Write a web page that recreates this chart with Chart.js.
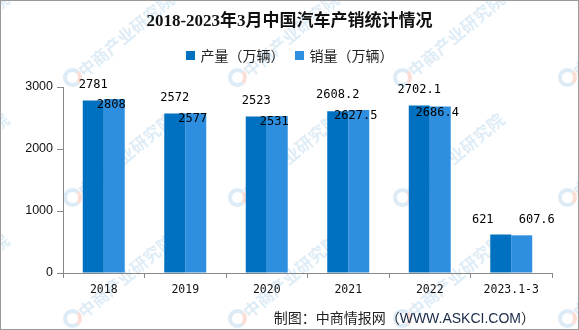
<!DOCTYPE html>
<html>
<head>
<meta charset="utf-8">
<script src="https://cdn.jsdelivr.net/npm/chart.js@4/dist/chart.umd.min.js"></script>
<style>
  html, body { margin: 0; padding: 0; background: #fff; }
  #wrap { position: relative; width: 579px; height: 330px; overflow: hidden; background: #fff; }
  #marks { position: absolute; left: 0; top: 0; width: 579px; height: 330px; }
  .wm { position: absolute; transform-origin: 0 50%; transform: rotate(-40deg); white-space: nowrap;
    font: bold 17px "Noto Sans CJK SC", sans-serif; color: rgba(140, 190, 225, 0.28); line-height: 20px; }
  .logo { position: absolute; width: 11px; height: 11px; border-radius: 50%;
    border: 4px solid rgba(140, 190, 225, 0.3); border-right-color: rgba(240, 150, 120, 0.3); }
  #chart { position: absolute; left: 0; top: 0; }
  #frame { position: absolute; left: 0; top: 0; width: 579px; height: 330px; box-sizing: border-box; border: 1px solid #999; pointer-events: none; }
  #title { position: absolute; left: 0; width: 579px; top: 10px; text-align: center;
    font: bold 17px "Liberation Serif", "Noto Sans CJK SC", serif; color: #111; line-height: 22px; }
  #legend { position: absolute; left: 0; width: 579px; top: 45px; text-align: center;
    font: 14px "Noto Sans CJK SC", sans-serif; color: #222; line-height: 20px; }
  #legend span.item { display: inline-block; margin: 0 5px; }
  #legend i { display: inline-block; width: 9px; height: 9px; margin-right: 6px; vertical-align: 1px; }
  #footer { position: absolute; right: 44px; top: 307px; font: 14px "Noto Sans CJK SC", sans-serif; color: #222; line-height: 20px; }
  #footer b { font: 14px "Liberation Sans", sans-serif; color: #1a2a4a; }
</style>
</head>
<body>
<div id="wrap">
  <div id="marks"></div>
  <canvas id="chart" width="579" height="330"></canvas>
  <div id="title">2018-2023年3月中国汽车产销统计情况</div>
  <div id="legend"></div>
  <div id="footer">制图：中商情报网（<b>WWW.ASKCI.COM</b>）</div>
  <div id="frame"></div>
</div>
<script>
const categories = ['2018', '2019', '2020', '2021', '2022', '2023.1-3'];
const production = [2781, 2572, 2523, 2608.2, 2702.1, 621];
const sales = [2808, 2577, 2531, 2627.5, 2686.4, 607.6];
const seriesNames = ['产量（万辆）', '销量（万辆）'];
const colors = ['#0070c0', '#2e8fe0'];

// faint tiled watermark behind the chart
let marks = '';
[77, 197, 318].forEach(y => {
  [-93, 72, 237, 402, 567].forEach(x => {
    marks += `<div class="logo" style="left:${x - 9}px;top:${y - 9}px"></div>`;
    marks += `<div class="wm" style="left:${x + 8}px;top:${y - 14}px">中商产业研究院</div>`;
  });
});
document.getElementById('marks').innerHTML = marks;

// value labels: production above its bar, sales tucked on top of its bar
const valueLabels = {
  id: 'valueLabels',
  afterDatasetsDraw(chart) {
    const ctx = chart.ctx;
    ctx.save();
    ctx.font = '12px "DejaVu Sans Mono", monospace';
    ctx.fillStyle = '#000';
    ctx.textAlign = 'center';
    ctx.textBaseline = 'middle';
    chart.data.datasets.forEach((ds, di) => {
      chart.getDatasetMeta(di).data.forEach((bar, i) => {
        const v = ds.data[i];
        let x = bar.x, y;
        if (v < 1000) {
          x += di === 0 ? -18 : 15;
          y = bar.y - 15;
        } else if (di === 0) {
          y = bar.y - 16;
        } else {
          x -= 3;
          y = bar.y + 6;
        }
        ctx.fillText(String(v), x, y);
      });
    });
    ctx.restore();
  }
};

document.getElementById('legend').innerHTML = seriesNames
  .map((n, i) => `<span class="item"><i style="background:${colors[i]}"></i>${n}</span>`)
  .join('');

new Chart(document.getElementById('chart'), {
  type: 'bar',
  data: {
    labels: categories,
    datasets: [
      { label: seriesNames[0], data: production, backgroundColor: colors[0] },
      { label: seriesNames[1], data: sales, backgroundColor: colors[1] },
    ],
  },
  options: {
    responsive: false,
    animation: false,
    layout: { padding: { top: 87, right: 27, bottom: 0, left: 0 } },
    plugins: { legend: { display: false }, title: { display: false }, tooltip: { enabled: false } },
    datasets: { bar: { categoryPercentage: 0.515, barPercentage: 1 } },
    scales: {
      x: {
        afterFit(scale) { scale.height = 57; },
        grid: { drawOnChartArea: false, tickLength: 5, color: '#888' },
        border: { color: '#888' },
        ticks: { padding: 5, color: '#111', font: { family: '"DejaVu Sans Mono", monospace', size: 11.5 } },
      },
      y: {
        min: 0,
        max: 3000,
        afterFit(scale) { scale.width = 63; },
        grid: { drawOnChartArea: false, tickLength: 6, color: '#888' },
        border: { color: '#888' },
        ticks: {
          stepSize: 1000, padding: 4, color: '#111',
          font: { family: '"Liberation Sans", sans-serif', size: 12.5 },
          callback: v => String(v),
        },
      },
    },
  },
  plugins: [valueLabels],
});
</script>
</body>
</html>
